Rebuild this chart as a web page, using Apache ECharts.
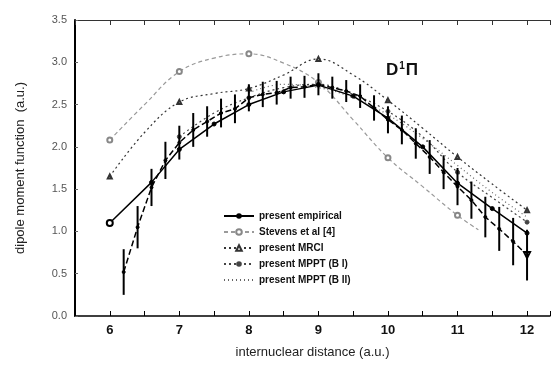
<!DOCTYPE html>
<html>
<head>
<meta charset="utf-8">
<script src="https://cdn.jsdelivr.net/npm/echarts@6/dist/echarts.min.js"></script>
<style>
  html, body { margin: 0; padding: 0; background: #fff; }
  #chart { width: 554px; height: 369px; }
</style>
</head>
<body>
<div id="chart"></div>
<script>
// present empirical (solid line)
const empX = [6.0, 6.6, 7.0, 7.5, 8.0, 8.5, 9.0, 9.5, 10.0, 10.5, 11.0, 11.5, 12.0];
const empY = [1.10, 1.58, 1.97, 2.27, 2.50, 2.65, 2.73, 2.60, 2.34, 2.00, 1.57, 1.27, 0.98];

// Stevens et al [4]
const stevX = [6.0, 6.5, 7.0, 7.5, 8.0, 8.5, 9.0, 9.5, 10.0, 10.5, 11.0, 11.3];
const stevY = [2.08, 2.50, 2.89, 3.05, 3.10, 2.99, 2.76, 2.32, 1.87, 1.53, 1.19, 1.02];

// present MRCI
const mrciX = [6.0, 6.5, 7.0, 7.5, 8.0, 8.5, 9.0, 9.5, 10.0, 10.5, 11.0, 11.5, 12.0];
const mrciY = [1.65, 2.17, 2.53, 2.63, 2.69, 2.85, 3.04, 2.85, 2.55, 2.22, 1.88, 1.56, 1.25];

// present MPPT (B I)
const mp1X = [7.0, 7.5, 8.0, 8.5, 9.0, 9.5, 10.0, 10.5, 11.0, 11.5, 12.0];
const mp1Y = [2.12, 2.40, 2.58, 2.70, 2.74, 2.62, 2.42, 2.12, 1.70, 1.40, 1.11];

// present MPPT (B II)
const mp2X = [8.0, 8.5, 9.0, 9.5, 10.0, 10.5, 11.0, 11.5, 12.0];
const mp2Y = [2.64, 2.74, 2.70, 2.58, 2.38, 2.10, 1.78, 1.46, 1.17];

// points with error bars (dashed)
const errX = [6.2, 6.4, 6.6, 6.8, 7.0, 7.2, 7.4, 7.6, 7.8, 8.0, 8.2, 8.4, 8.6, 8.8, 9.0,
              9.2, 9.4, 9.6, 9.8, 10.0, 10.2, 10.4, 10.6, 10.8, 11.0, 11.2, 11.4, 11.6, 11.8, 12.0];
const errY = [0.52, 1.05, 1.52, 1.84, 2.05, 2.20, 2.30, 2.40, 2.45, 2.58, 2.62, 2.64, 2.70, 2.71, 2.74,
              2.70, 2.66, 2.60, 2.46, 2.32, 2.20, 2.04, 1.88, 1.70, 1.53, 1.37, 1.17, 1.03, 0.88, 0.72];
const errD = [0.27, 0.25, 0.22, 0.22, 0.20, 0.20, 0.18, 0.17, 0.17, 0.16, 0.15, 0.14, 0.13, 0.13, 0.13,
              0.13, 0.13, 0.14, 0.15, 0.16, 0.17, 0.18, 0.20, 0.20, 0.22, 0.22, 0.24, 0.26, 0.28, 0.30];

const legendNames = ['present empirical', 'Stevens et al [4]', 'present MRCI', 'present MPPT (B I)', 'present MPPT (B II)'];

// markers only on whole-number distances
const markInts = (xs, ys) => xs.map((x, i) => Number.isInteger(x) ? [x, ys[i]] : { value: [x, ys[i]], symbol: 'none' });

const chart = echarts.init(document.getElementById('chart'));

const font = 'Liberation Sans, Arial, sans-serif';

const option = {
    backgroundColor: '#fff',
    animation: false,
    textStyle: { fontFamily: font },
    grid: { left: 75, right: 4, top: 20, bottom: 53 },
    legend: {
        data: legendNames.map((n, i) => i === 4
            ? { name: n, itemStyle: { color: 'rgba(0,0,0,0)', borderWidth: 0 } }
            : { name: n }),
        orient: 'vertical',
        left: 218,
        top: 206,
        itemWidth: 30,
        itemHeight: 7,
        itemGap: 6,
        textStyle: { fontSize: 10, fontWeight: 'bold', color: '#111', fontFamily: font }
    },
    xAxis: [
        {
            type: 'value',
            min: 5.5,
            max: 12.33,
            interval: 0.5,
            name: 'internuclear distance (a.u.)',
            nameLocation: 'middle',
            nameGap: 30,
            nameTextStyle: { fontSize: 13, color: '#222' },
            axisLine: { lineStyle: { color: '#000', width: 1.5 } },
            axisTick: { inside: true, length: 5, lineStyle: { color: '#000' } },
            axisLabel: {
                fontSize: 13,
                fontWeight: 'bold',
                color: '#111',
                margin: 8,
                formatter: (v) => Number.isInteger(v) ? String(v) : ''
            },
            splitLine: { show: false }
        },
        {
            type: 'value',
            position: 'top',
            min: 5.5,
            max: 12.33,
            interval: 0.5,
            axisLine: { lineStyle: { color: '#333', width: 1 } },
            axisTick: { inside: true, length: 5, lineStyle: { color: '#333' } },
            axisLabel: { show: false },
            splitLine: { show: false }
        }
    ],
    yAxis: {
        type: 'value',
        min: 0,
        max: 3.5,
        interval: 0.5,
        name: 'dipole moment function  (a.u.)',
        nameLocation: 'middle',
        nameGap: 48,
        nameTextStyle: { fontSize: 13, color: '#222' },
        axisLine: { show: true, lineStyle: { color: '#000', width: 2 } },
        axisTick: { inside: true, length: 3, lineStyle: { color: '#666' } },
        axisLabel: {
            fontSize: 11,
            color: '#555',
            margin: 8,
            formatter: (v) => v.toFixed(1)
        },
        splitLine: { show: false }
    },
    graphic: [
        {
            type: 'text',
            left: 386,
            top: 61,
            style: {
                text: '{a|D}{s|1}{a|Π}',
                rich: {
                    a: { fontSize: 17, fontWeight: 'bold', fill: '#111', fontFamily: font },
                    s: { fontSize: 10, fontWeight: 'bold', fill: '#111', fontFamily: font, verticalAlign: 'top', padding: [0, 1, 8, 1] }
                }
            }
        }
    ],
    series: [
        {
            name: 'present empirical',
            type: 'line',
            data: empX.map((x, i) => i === 0 ? { value: [x, empY[i]], symbol: 'emptyCircle', symbolSize: 6 } : [x, empY[i]]),
            symbol: 'circle',
            symbolSize: 4,
            lineStyle: { color: '#000', width: 1.5 },
            itemStyle: { color: '#000', borderColor: '#000' },
            z: 5
        },
        {
            name: 'Stevens et al [4]',
            type: 'line',
            data: markInts(stevX, stevY),
            smooth: 0.4,
            symbol: 'emptyCircle',
            symbolSize: 5,
            lineStyle: { color: '#9a9a9a', width: 1.2, type: [4, 3] },
            itemStyle: { color: '#888', borderColor: '#888' }
        },
        {
            name: 'present MRCI',
            type: 'line',
            data: markInts(mrciX, mrciY),
            smooth: 0.4,
            symbol: 'emptyTriangle',
            symbolSize: 4,
            lineStyle: { color: '#333', width: 1.2, type: [2, 3] },
            itemStyle: { color: '#333', borderColor: '#333' }
        },
        {
            name: 'present MPPT (B I)',
            type: 'line',
            data: markInts(mp1X, mp1Y),
            smooth: 0.4,
            symbol: 'circle',
            symbolSize: 4,
            lineStyle: { color: '#444', width: 1.2, type: [2, 3] },
            itemStyle: { color: '#444', borderColor: '#444' }
        },
        {
            name: 'present MPPT (B II)',
            type: 'line',
            data: mp2X.map((x, i) => [x, mp2Y[i]]),
            smooth: 0.4,
            symbol: 'none',
            lineStyle: { color: '#666', width: 1.2, type: [1, 3] },
            itemStyle: { color: '#666' }
        },
        {
            name: 'data',
            type: 'line',
            data: errX.map((x, i) => i === errX.length - 1
                ? { value: [x, errY[i]], symbol: 'emptyTriangle', symbolSize: 6, symbolRotate: 180 }
                : [x, errY[i]]),
            symbol: 'circle',
            symbolSize: 3,
            lineStyle: { color: '#000', width: 1.5, type: [6, 3] },
            itemStyle: { color: '#000', borderColor: '#000' },
            z: 4
        },
        {
            name: 'error',
            type: 'custom',
            data: errX.map((x, i) => [x, errY[i] - errD[i], errY[i] + errD[i]]),
            renderItem: (params, api) => {
                const lo = api.coord([api.value(0), api.value(1)]);
                const hi = api.coord([api.value(0), api.value(2)]);
                return {
                    type: 'line',
                    shape: { x1: lo[0], y1: lo[1], x2: hi[0], y2: hi[1] },
                    style: { stroke: '#000', lineWidth: 2 }
                };
            },
            z: 6
        }
    ]
};

chart.setOption(option);
</script>
</body>
</html>
